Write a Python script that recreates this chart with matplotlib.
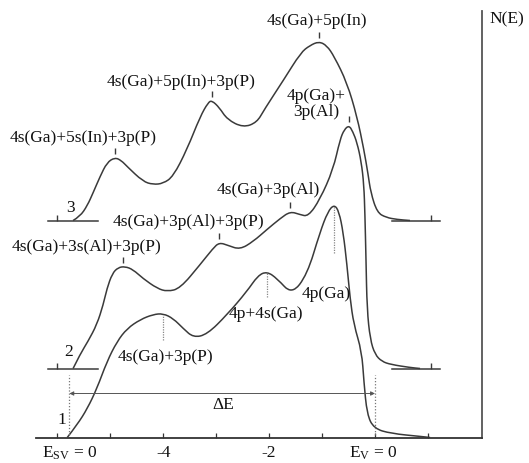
import numpy as np
import matplotlib.pyplot as plt
from matplotlib.path import Path
from matplotlib.patches import PathPatch

plt.rcParams['font.family'] = ['Liberation Serif', 'DejaVu Serif']
plt.rcParams['mathtext.fontset'] = 'custom'
plt.rcParams['mathtext.rm'] = 'Liberation Serif'
plt.rcParams['mathtext.it'] = 'Liberation Serif:italic'

# energy (eV, relative to E_v) and N(E) in arbitrary units
e1 = [-5.81, -5.62, -5.43, -5.25, -5.06, -4.87, -4.68, -4.43, -4.19, -4.00,
      -3.81, -3.62, -3.43, -3.17, -2.79, -2.42, -2.21, -2.04, -1.85, -1.57,
      -1.28, -1.04, -0.89, -0.77, -0.68, -0.60, -0.53, -0.47, -0.40, -0.25,
      -0.21, -0.15, -0.02, 0.30, 0.87, 1.04]
n1 = [0.0, 1.3, 2.9, 4.9, 7.6, 9.6, 10.9, 11.8, 12.3, 12.4,
      11.9, 10.9, 10.0, 10.3, 12.3, 14.6, 16.2, 16.6, 15.9, 14.3,
      16.3, 20.5, 22.6, 23.3, 22.6, 20.5, 17.3, 13.9, 11.3, 8.6,
      5.6, 2.3, 0.9, 0.4, 0.1, 0.0]

e2 = [-5.70, -5.57, -5.42, -5.25, -5.13, -5.06, -4.96, -4.85, -4.72, -4.57,
      -4.38, -4.11, -3.92, -3.68, -3.30, -3.06, -2.94, -2.77, -2.55, -2.30,
      -2.04, -1.79, -1.60, -1.42, -1.26, -1.04, -0.79, -0.66, -0.58, -0.49,
      -0.42, -0.34, -0.26, -0.21, -0.19, -0.17, -0.15, -0.09, 0.00, 0.13,
      0.30, 0.66, 0.85]
n2 = [0.0, 1.4, 2.7, 4.4, 6.4, 8.0, 9.5, 10.1, 10.2, 9.9,
      9.0, 8.0, 7.7, 8.0, 10.4, 12.0, 12.6, 12.3, 11.9, 12.7,
      13.9, 15.0, 15.7, 15.4, 15.2, 16.9, 19.9, 22.9, 23.9, 24.3,
      23.7, 22.6, 20.7, 18.4, 15.4, 10.9, 5.9, 2.9, 1.4, 0.7,
      0.4, 0.1, 0.0]

e3 = [-5.70, -5.57, -5.43, -5.32, -5.19, -5.06, -4.91, -4.79, -4.68, -4.38,
      -4.19, -4.00, -3.81, -3.55, -3.30, -3.15, -3.08, -2.94, -2.79, -2.49,
      -2.23, -2.09, -1.72, -1.40, -1.23, -1.06, -0.91, -0.77, -0.53, -0.34,
      -0.21, -0.13, -0.08, 0.04, 0.21, 0.42, 0.66]
n3 = [0.0, 0.4, 1.5, 2.8, 4.4, 5.8, 6.3, 6.0, 5.4, 3.9,
      3.6, 3.7, 4.4, 7.1, 10.4, 11.8, 12.0, 11.3, 10.1, 9.3,
      9.8, 11.1, 14.1, 16.8, 17.5, 17.9, 17.5, 16.4, 13.8, 10.4,
      7.1, 4.6, 2.8, 0.8, 0.3, 0.1, 0.0]

offset2 = 6.9
offset3 = 21.7

# marked peaks
peaks1 = [-4.00, -2.04, -0.77]
drops1 = [2.5, 2.4, 4.7]
peaks2 = [-4.75, -2.94, -1.60, -0.49]
peaks3 = [-4.91, -3.08, -1.06]

e_sv = -5.77
e_v = 0.0

line_c = '#3a3a3a'
txt_c = '#111111'
fs = 12.5


def smooth_curve(ax, x, y, **kw):
    # quadratic Bezier through midpoints, read points act as control points
    pts = np.column_stack([x, y])
    verts = [pts[0]]
    codes = [Path.MOVETO]
    for i in range(1, len(pts) - 1):
        verts += [pts[i], (pts[i] + pts[i + 1]) / 2]
        codes += [Path.CURVE3, Path.CURVE3]
    verts.append(pts[-1])
    codes.append(Path.LINETO)
    ax.add_patch(PathPatch(Path(verts, codes), fill=False, **kw))


fig = plt.figure(figsize=(5.29, 4.64), dpi=100)
ax = fig.add_axes([36 / 529, 25.5 / 464, 446 / 529, 426.5 / 464])
ax.set_xlim(-6.40, 2.02)
ax.set_ylim(0, 42.65)

for s in ['left', 'top']:
    ax.spines[s].set_visible(False)
ax.spines['bottom'].set_color('#333333')
ax.spines['right'].set_color('#555555')
ax.spines['bottom'].set_linewidth(1.3)
ax.spines['right'].set_linewidth(1.3)
ax.set_yticks([])
ax.set_xticks([-6, -5, -4, -3, -2, -1, 0, 1])
ax.set_xticklabels(['', '', '-4', '', '-2', '', '', ''])
ax.tick_params(axis='x', direction='in', length=3.5, width=0.9, pad=5,
               labelsize=fs, colors='#333333', labelcolor=txt_c)

# curves
smooth_curve(ax, e1, n1, edgecolor=line_c, lw=1.1)
smooth_curve(ax, e2, np.array(n2) + offset2, edgecolor=line_c, lw=1.1)
smooth_curve(ax, e3, np.array(n3) + offset3, edgecolor=line_c, lw=1.1)

# baselines of curves 2 and 3
for off in [offset2, offset3]:
    ax.plot([-6.17, -5.23], [off, off], color=line_c, lw=1.1)
    ax.plot([0.32, 1.23], [off, off], color=line_c, lw=1.1)
    ax.vlines([-6.0, 1.06], off, off + 0.6, color=line_c, lw=1.0)

# peak markers
for p, d in zip(peaks1, drops1):
    top = np.interp(p, e1, n1) - 0.1
    ax.vlines(p, top - d, top, color='#888888', lw=0.9, linestyle=(0, (1, 1)))
for p in peaks2:
    top = np.interp(p, e2, n2) + offset2
    ax.vlines(p, top + 0.4, top + 1.0, color=line_c, lw=1.0)
for p in peaks3:
    top = np.interp(p, e3, n3) + offset3
    ax.vlines(p, top + 0.4, top + 1.0, color=line_c, lw=1.0)

# band edges and Delta E
ax.vlines([e_sv, e_v], 0, 6.3, color='#777777', lw=0.9, linestyle=(0, (1, 1.5)))
ax.annotate('', xy=(e_sv, 4.4), xytext=(e_v, 4.4),
            arrowprops=dict(arrowstyle='<|-|>', color='#555555', lw=0.7,
                            mutation_scale=6, shrinkA=0, shrinkB=0))
ax.text(-2.87, 3.3, 'ΔE', ha='center', va='center', fontsize=fs, color=txt_c)

# labels
labels = [
    (-1.09, 41.8, '4s(Ga)+5p(In)'),
    (-3.66, 35.6, '4s(Ga)+5p(In)+3p(P)'),
    (-5.51, 30.0, '4s(Ga)+5s(In)+3p(P)'),
    (-1.11, 33.5, '4p(Ga)+\n3p(Al)'),
    (-2.02, 24.8, '4s(Ga)+3p(Al)'),
    (-3.53, 21.6, '4s(Ga)+3p(Al)+3p(P)'),
    (-5.45, 19.1, '4s(Ga)+3s(Al)+3p(P)'),
    (-3.96, 8.1, '4s(Ga)+3p(P)'),
    (-2.06, 12.4, '4p+4s(Ga)'),
    (-0.92, 14.5, '4p(Ga)'),
    (-5.92, 1.8, '1'),
    (-5.79, 8.6, '2'),
    (-5.75, 23.0, '3'),
]
for x, y, t in labels:
    ax.text(x, y, t, ha='center', va='center', fontsize=fs, color=txt_c,
            multialignment='center', linespacing=1.0)

ax.text(2.49, 41.9, 'N(E)', ha='center', va='center', fontsize=fs,
        color=txt_c, clip_on=False)
ax.text(-5.77, -1.5, r'E$_{\rm SV}$ = 0', ha='center', va='center',
        fontsize=fs, color=txt_c, clip_on=False)
ax.text(-0.04, -1.5, r'E$_{\rm V}$ = 0', ha='center', va='center',
        fontsize=fs, color=txt_c, clip_on=False)

fig.savefig('out.png', dpi=100)
